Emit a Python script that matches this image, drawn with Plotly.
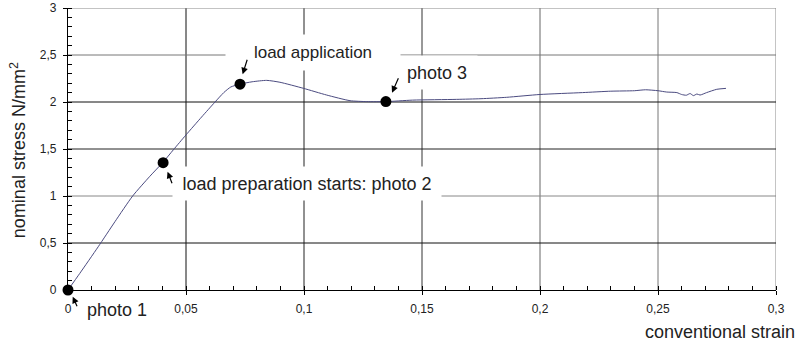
import plotly.graph_objects as go

# ---- data ----
strain = [0, 0.005, 0.0128, 0.0199, 0.0274, 0.0347, 0.0403, 0.0446, 0.050, 0.0566,
          0.0623, 0.0660, 0.0690, 0.0729, 0.078, 0.0842, 0.0898, 0.0997, 0.1096, 0.1195, 0.1266,
          0.1347, 0.146, 0.1647, 0.175, 0.1859, 0.200, 0.218,
          0.230, 0.240, 0.2447, 0.250, 0.2537, 0.258, 0.2600, 0.2620, 0.2636, 0.2650,
          0.2665, 0.2678, 0.2706, 0.2749, 0.2788]
stress = [0, 0.177, 0.46, 0.727, 1.0, 1.21, 1.36, 1.49, 1.65, 1.84,
          2.00, 2.10, 2.16, 2.19, 2.215, 2.23, 2.21, 2.146, 2.074, 2.014, 2.004,
          2.004, 2.02, 2.028, 2.035, 2.05, 2.08, 2.10,
          2.115, 2.12, 2.13, 2.12, 2.106, 2.10, 2.08, 2.072, 2.09, 2.068,
          2.085, 2.074, 2.10, 2.135, 2.145]

photo_strain = [0, 0.0403, 0.0729, 0.1347]
photo_stress = [0, 1.355, 2.19, 2.004]

x_ticks = [0, 0.05, 0.1, 0.15, 0.2, 0.25, 0.3]
x_tick_labels = ["0", "0,05", "0,1", "0,15", "0,2", "0,25", "0,3"]
y_ticks = [0, 0.5, 1, 1.5, 2, 2.5, 3]
y_tick_labels = ["0", "0,5", "1", "1,5", "2", "2,5", "3"]

# gridline shades (as in the reference rendering)
x_grid_colors = {0.05: "#111", 0.1: "#222", 0.15: "#333", 0.2: "#666", 0.25: "#777", 0.3: "#888"}
y_grid_colors = {0.5: "#111", 1: "#888", 1.5: "#222", 2: "#111", 2.5: "#777", 3: "#888"}

FONT = "Liberation Sans, Arial, sans-serif"
TXT = "#222222"

fig = go.Figure()

shapes = []
for xv, c in x_grid_colors.items():
    shapes.append(dict(type="line", xref="x", yref="paper", x0=xv, x1=xv, y0=0, y1=1,
                       line=dict(color=c, width=1), layer="below"))
for yv, c in y_grid_colors.items():
    shapes.append(dict(type="line", xref="paper", yref="y", x0=0, x1=1, y0=yv, y1=yv,
                       line=dict(color=c, width=1), layer="below"))

fig.add_trace(go.Scatter(x=strain, y=stress, mode="lines",
                         line=dict(color="#4b4b80", width=1, shape="spline", smoothing=0.6),
                         showlegend=False, hoverinfo="skip"))
fig.add_trace(go.Scatter(x=photo_strain, y=photo_stress, mode="markers",
                         marker=dict(color="black", size=11), cliponaxis=False,
                         showlegend=False))

annotations = []
# text boxes (white background breaks gridlines as in the reference)
labels = [
    ("load application", 0.1038, "y", 2.527, 174, 35, 17),
    ("load preparation starts: photo 2", 0.1013, "y", 1.133, 268, 33, 18),
    ("photo 3", 0.1564, "y", 2.314, 80, 33, 18),
    ("photo 1", 0.0206, "paper", -0.0709, 66, 24, 18),
]
for txt, xv, yr, yv, w, h, fs in labels:
    annotations.append(dict(text=txt, x=xv, y=yv, xref="x", yref=yr, showarrow=False,
                            bgcolor="white", width=w, height=h, borderpad=0,
                            font=dict(family=FONT, size=fs, color=TXT),
                            xanchor="center", yanchor="middle"))
# arrows
arrows = [
    (0.002, "paper", -0.0238, 5, 11),
    (0.0422, "y", 1.258, 5, 13),
    (0.074, "y", 2.295, 5, -16),
    (0.1373, "y", 2.099, 7, -16),
]
for xv, yr, yv, ax, ay in arrows:
    annotations.append(dict(text="", x=xv, y=yv, xref="x", yref=yr, ax=ax, ay=ay,
                            axref="pixel", ayref="pixel", showarrow=True,
                            arrowhead=2, arrowsize=1.1, arrowwidth=1.2, arrowcolor="black"))
# axis titles
annotations.append(dict(text="conventional strain", xref="paper", yref="paper",
                        x=1.0297, y=-0.148, xanchor="right", yanchor="middle",
                        showarrow=False, font=dict(family=FONT, size=18, color=TXT)))
annotations.append(dict(text="nominal stress N/mm<sup>2</sup>", xref="paper", yref="paper",
                        x=-0.0706, y=0.496, xanchor="center", yanchor="middle",
                        textangle=-90, showarrow=False,
                        font=dict(family=FONT, size=18, color=TXT)))

fig.update_layout(
    width=798, height=343,
    margin=dict(l=68, r=22, t=8, b=53, autoexpand=False),
    paper_bgcolor="white", plot_bgcolor="white",
    separators=",.",
    shapes=shapes, annotations=annotations,
    font=dict(family=FONT, color=TXT),
)
fig.update_xaxes(range=[0, 0.3], tickvals=x_ticks, ticktext=x_tick_labels,
                 automargin=False,
                 showgrid=False, zeroline=False, showline=True, linecolor="black",
                 linewidth=1.3, ticks="outside", ticklen=4, tickcolor="black",
                 tickfont=dict(size=12, family=FONT, color=TXT), ticklabelstandoff=3,
                 minor=dict(ticks="inside", ticklen=4, dtick=0.01, tickcolor="black",
                            showgrid=False))
fig.update_yaxes(range=[0, 3], tickvals=y_ticks, ticktext=y_tick_labels,
                 automargin=False,
                 showgrid=False, zeroline=False, showline=True, linecolor="black",
                 linewidth=1.3, ticks="outside", ticklen=4, tickcolor="black",
                 tickfont=dict(size=12, family=FONT, color=TXT), ticklabelstandoff=4,
                 minor=dict(ticks="inside", ticklen=4, dtick=0.1, tickcolor="black",
                            showgrid=False))

fig.write_html("out.html", config={"displayModeBar": False},
               post_script="document.body.style.margin='0';")
